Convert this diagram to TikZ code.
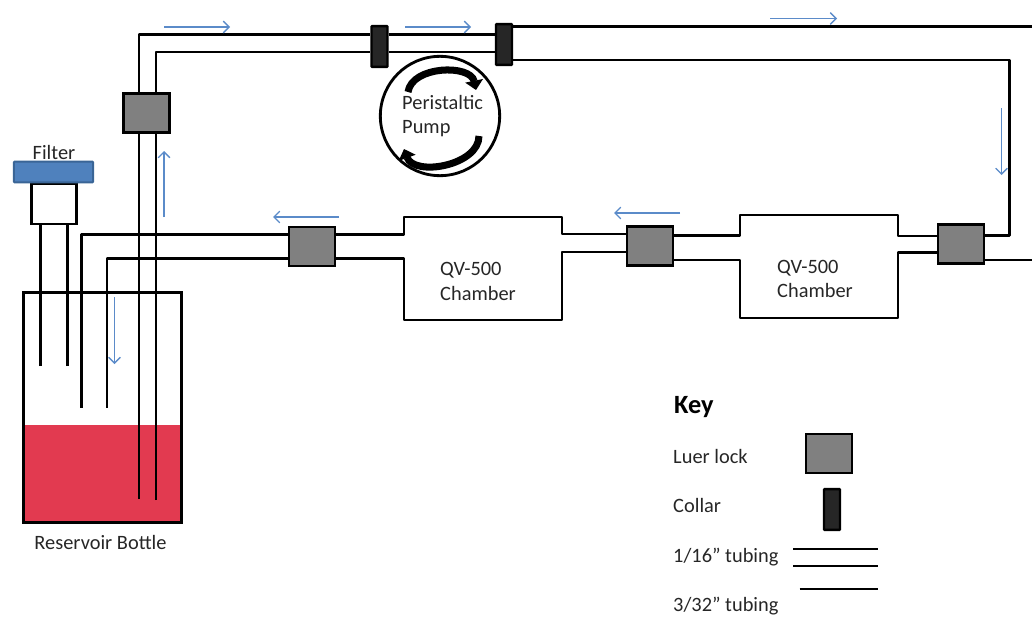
\documentclass[tikz,border=0pt]{standalone}
\usepackage{fontspec}
\setmainfont{Carlito}
\usetikzlibrary{arrows.meta,positioning,shapes}
\definecolor{flowblue}{HTML}{5B8BC9}
\definecolor{filterblue}{HTML}{4F81BD}
\definecolor{filteredge}{HTML}{3A6596}
\definecolor{liquidred}{HTML}{E23A50}
\definecolor{collarblack}{HTML}{262626}
\tikzset{
  lock/.style={draw,line width=2.5pt,fill=gray,minimum width=1.38cm,minimum height=1.17cm,inner sep=0pt},
  collar/.style={draw,line width=2pt,rounded corners=.5pt,fill=collarblack,minimum width=.48cm,minimum height=1.22cm,inner sep=0pt},
  tube/.style={line width=2.4pt,line join=round},
  thintube/.style={line width=2pt,line join=round},
  flow/.style={-{Straight Barb[length=5pt,width=10pt]},line width=1.1pt,flowblue},
  label/.style={font=\fontsize{17.4}{20}\selectfont,inner sep=0pt,text=black!85},
}

\begin{document}
\begin{tikzpicture}[x=.03cm,y=-.03cm]
\useasboundingbox (0,0) rectangle (1032,618);
\fill[liquidred] (23,425) rectangle (181,523);
\node[draw,line width=2.2pt,minimum width=1.35cm,minimum height=1.2cm,inner sep=0pt] (neck) at (54,204) {};
\node[draw=filteredge,line width=1.6pt,rounded corners=.5pt,fill=filterblue,minimum width=2.38cm,minimum height=.62cm,inner sep=0pt] (filter) at (53.5,172) {};
\node[label] (filtertxt) at (54,152) {Filter};
\node[draw,line width=2.4pt,minimum width=4.72cm,minimum height=6.92cm,inner sep=0pt] (bottle) at (102.5,407.5) {};
\node[label] (bottletxt) at (100.5,542) {Reservoir Bottle};
% locks and collars
\node[lock] (lk1) at (146.5,113) {};
\node[lock] (lk2) at (312,246.5) {};
\node[lock] (lk3) at (650,246) {};
\node[lock] (lk4) at (961,244) {};
\node[collar] (cl1) at (379.5,46.5) {};
\node[collar] (cl2) at (504,44.5) {};
% pump
\node[draw,circle,line width=2.4pt,minimum size=3.58cm,inner sep=0pt] (pump) at (440,116) {};
\node[label,anchor=west] (pumptxt1) at (402,102.5) {Peristaltic};
\node[label,anchor=west] (pumptxt2) at (402,128.5) {Pump};
\coordinate (pt1) at (408,92);
\coordinate (pt2) at (476,90);
\coordinate (pb1) at (479,136);
\coordinate (pb2) at (404,149);
\draw[-{Triangle[length=8pt,width=15pt]},line width=6pt] (pt1) to[bend left=80] (pt2);
\draw[-{Triangle[length=8pt,width=15pt]},line width=6pt] (pb1) to[bend left=80] (pb2);
% chambers
\node[label,anchor=west] (ch1a) at (440,270) {QV-500};
\node[label,anchor=west] (ch1b) at (440,293) {Chamber};
\node[label,anchor=west] (ch2a) at (777,268) {QV-500};
\node[label,anchor=west] (ch2b) at (777,290.5) {Chamber};
% tubing
\coordinate (a0) at (40.5,366);
\coordinate (a1) at (67.5,366);
\draw[tube] (a0) -- (neck.south -| a0);
\draw[tube] (a1) -- (neck.south -| a1);
\coordinate (b0) at (81.5,407.5);
\coordinate (b1) at (81.5,234.5);
\coordinate (c0) at (107,407.5);
\coordinate (c1) at (107,258.5);
\draw[tube] (b0) -- (b1) -- (lk2.west |- b1);
\draw[tube] (c0) -- (c1) -- (lk2.west |- c1);
\coordinate (d0) at (139,499);
\coordinate (d1) at (156,500);
\draw[thintube] (d0) -- (lk1.south -| d0);
\draw[thintube] (d1) -- (lk1.south -| d1);
\coordinate (e0) at (139,34.5);
\coordinate (e1) at (156,52);
\draw[thintube] (lk1.north -| e0) -- (e0) -- (cl1.west |- e0);
\draw[thintube] (lk1.north -| e1) -- (e1) -- (cl1.west |- e1);
\draw[thintube] (cl1.east |- e0) -- (cl2.west |- e0);
\draw[thintube] (cl1.east |- e1) -- (cl2.west |- e1);
\coordinate (f0) at (1032,26.5);
\coordinate (f1) at (1009.5,60);
\coordinate (f2) at (1009.5,235.5);
\draw[tube] (cl2.east |- f0) -- (f0);
\draw[tube] (cl2.east |- f1) -- (f1) -- (f2) -- (lk4.east |- f2);
\coordinate (g0) at (1032,260);
\draw[tube] (lk4.east |- g0) -- (g0);
% chamber outlines
\draw[tube] (lk2.east |- b1) -- (404,234.5) -- (404,217) -- (562,217) -- (562,234) -- (lk3.west |- 0,234);
\draw[tube] (lk2.east |- c1) -- (404,258.5) -- (404,320) -- (562,320) -- (562,252) -- (lk3.west |- 0,252);
\draw[tube] (lk3.east |- 0,235.5) -- (740,235.5) -- (740,215) -- (898,215) -- (898,236) -- (lk4.west |- 0,236);
\draw[tube] (lk3.east |- 0,260) -- (740,260) -- (740,318) -- (898,318) -- (898,252.5) -- (lk4.west |- 0,252.5);
% flow direction
\draw[flow] (164,27) -- (230,27);
\draw[flow] (405,27) -- (471,27);
\draw[flow] (770,18.5) -- (837,18.5);
\draw[flow] (1001.5,108) -- (1001.5,175);
\draw[flow] (680,213) -- (614,213);
\draw[flow] (339,217) -- (273,217);
\draw[flow] (164,217) -- (164,151);
\draw[flow] (114.5,297) -- (114.5,364);
% key
\node[anchor=west,inner sep=0pt,font=\fontsize{22.5}{26}\selectfont\bfseries] (keytxt) at (674,407) {Key};
\node[label,anchor=west] (k1) at (673,456) {Luer lock};
\node[label,anchor=west] (k2) at (673,505) {Collar};
\node[label,anchor=west] (k3) at (673,557) {1/16” tubing};
\node[label,anchor=west] (k4) at (673,606) {3/32” tubing};
\node[lock] (klk) at (829,453.5) {};
\node[collar] (kcl) at (832,509.5) {};
\coordinate (kt0) at (793,549);
\coordinate (kt1) at (878,549);
\coordinate (kt2) at (793,566);
\coordinate (kt3) at (878,566);
\coordinate (kt4) at (799.5,589);
\coordinate (kt5) at (878,589);
\draw[thintube] (kt0) -- (kt1);
\draw[thintube] (kt2) -- (kt3);
\draw[tube] (kt4) -- (kt5);
\end{tikzpicture}
\end{document}
